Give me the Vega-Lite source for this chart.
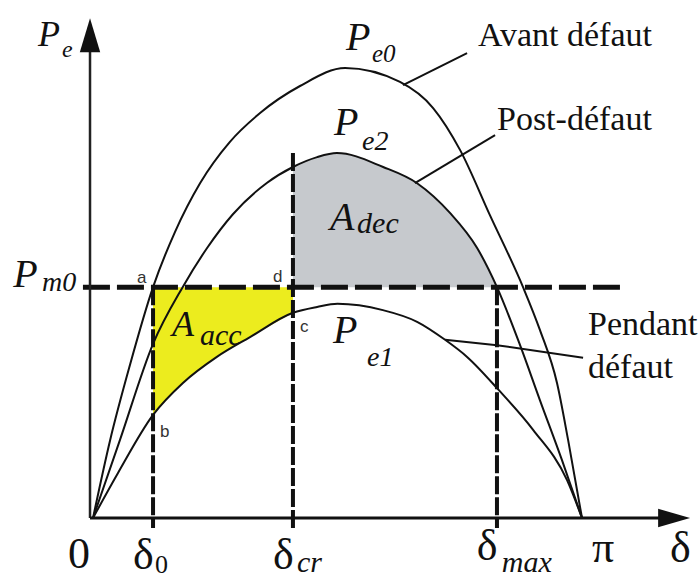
{
  "$schema": "https://vega.github.io/schema/vega-lite/v6.json",
  "width": 489,
  "height": 450,
  "autosize": {"type": "none"},
  "padding": {"left": 93, "top": 68, "right": 117, "bottom": 62},
  "background": "white",
  "config": {"view": {"stroke": null}, "axis": {"disable": true}},
  "datasets": {
    "curves": [
      {"curve": "Pe0", "x": 0, "y": 0},
      {"curve": "Pe0", "x": 6.3, "y": 0.173},
      {"curve": "Pe0", "x": 13.6, "y": 0.34},
      {"curve": "Pe0", "x": 22.1, "y": 0.513},
      {"curve": "Pe0", "x": 30.2, "y": 0.636},
      {"curve": "Pe0", "x": 39.4, "y": 0.744},
      {"curve": "Pe0", "x": 50.4, "y": 0.836},
      {"curve": "Pe0", "x": 61.5, "y": 0.9},
      {"curve": "Pe0", "x": 76.2, "y": 0.96},
      {"curve": "Pe0", "x": 92.8, "y": 1.0},
      {"curve": "Pe0", "x": 113, "y": 0.969},
      {"curve": "Pe0", "x": 125.2, "y": 0.911},
      {"curve": "Pe0", "x": 135.1, "y": 0.818},
      {"curve": "Pe0", "x": 146.1, "y": 0.673},
      {"curve": "Pe0", "x": 158.3, "y": 0.513},
      {"curve": "Pe0", "x": 164.5, "y": 0.418},
      {"curve": "Pe0", "x": 170.8, "y": 0.3},
      {"curve": "Pe0", "x": 174.9, "y": 0.173},
      {"curve": "Pe0", "x": 180, "y": 0},
      {"curve": "Pe2", "x": 0, "y": 0},
      {"curve": "Pe2", "x": 9.9, "y": 0.173},
      {"curve": "Pe2", "x": 22.1, "y": 0.387},
      {"curve": "Pe2", "x": 33, "y": 0.513},
      {"curve": "Pe2", "x": 42, "y": 0.6},
      {"curve": "Pe2", "x": 51.5, "y": 0.675},
      {"curve": "Pe2", "x": 64.1, "y": 0.745},
      {"curve": "Pe2", "x": 73.6, "y": 0.78},
      {"curve": "Pe2", "x": 82.5, "y": 0.802},
      {"curve": "Pe2", "x": 89.8, "y": 0.811},
      {"curve": "Pe2", "x": 106.8, "y": 0.78},
      {"curve": "Pe2", "x": 119.3, "y": 0.744},
      {"curve": "Pe2", "x": 131.4, "y": 0.678},
      {"curve": "Pe2", "x": 141.4, "y": 0.6},
      {"curve": "Pe2", "x": 148.7, "y": 0.513},
      {"curve": "Pe2", "x": 157.2, "y": 0.384},
      {"curve": "Pe2", "x": 164.5, "y": 0.262},
      {"curve": "Pe2", "x": 172.6, "y": 0.129},
      {"curve": "Pe2", "x": 180, "y": 0},
      {"curve": "Pe1", "x": 0, "y": 0},
      {"curve": "Pe1", "x": 9.2, "y": 0.1},
      {"curve": "Pe1", "x": 22.1, "y": 0.229},
      {"curve": "Pe1", "x": 33.1, "y": 0.3},
      {"curve": "Pe1", "x": 45.6, "y": 0.358},
      {"curve": "Pe1", "x": 57.8, "y": 0.402},
      {"curve": "Pe1", "x": 73.6, "y": 0.456},
      {"curve": "Pe1", "x": 82.5, "y": 0.469},
      {"curve": "Pe1", "x": 90, "y": 0.476},
      {"curve": "Pe1", "x": 106.7, "y": 0.462},
      {"curve": "Pe1", "x": 119.3, "y": 0.436},
      {"curve": "Pe1", "x": 129.6, "y": 0.396},
      {"curve": "Pe1", "x": 137.7, "y": 0.358},
      {"curve": "Pe1", "x": 149.4, "y": 0.284},
      {"curve": "Pe1", "x": 162, "y": 0.196},
      {"curve": "Pe1", "x": 174.5, "y": 0.084},
      {"curve": "Pe1", "x": 180, "y": 0}
    ],
    "angles": [
      {"angle": "δ0", "x": 22.1, "y": 0.513},
      {"angle": "δcr", "x": 73.6, "y": 0.811},
      {"angle": "δmax", "x": 148.7, "y": 0.513}
    ],
    "leaders": [
      {"label": "Avant défaut", "x": 114.1, "y": 0.962},
      {"label": "Avant défaut", "x": 137.7, "y": 1.033},
      {"label": "Post-défaut", "x": 118.5, "y": 0.744},
      {"label": "Post-défaut", "x": 148.0, "y": 0.851},
      {"label": "Pendant défaut", "x": 129.6, "y": 0.396},
      {"label": "Pendant défaut", "x": 148.7, "y": 0.384},
      {"label": "Pendant défaut", "x": 180.4, "y": 0.356}
    ]
  },
  "layer": [
    {
      "data": {"name": "curves"},
      "transform": [{"filter": "datum.curve === 'Pe1' && datum.x >= 22 && datum.x <= 74"}],
      "mark": {"type": "area", "interpolate": "monotone", "color": "#ecec1e"},
      "encoding": {
        "x": {"field": "x", "type": "quantitative", "scale": {"domain": [0, 180], "nice": false, "zero": false}},
        "y": {"field": "y", "type": "quantitative", "scale": {"domain": [0, 1], "nice": false, "zero": false}},
        "y2": {"datum": 0.513}
      }
    },
    {
      "data": {"name": "curves"},
      "transform": [{"filter": "datum.curve === 'Pe2' && datum.x >= 73 && datum.x <= 149"}],
      "mark": {"type": "area", "interpolate": "monotone", "color": "#c6c9cd"},
      "encoding": {
        "x": {"field": "x", "type": "quantitative"},
        "y": {"field": "y", "type": "quantitative"},
        "y2": {"datum": 0.513}
      }
    },
    {
      "data": {"name": "curves"},
      "mark": {"type": "line", "interpolate": "monotone", "color": "#111", "strokeWidth": 2},
      "encoding": {
        "x": {"field": "x", "type": "quantitative"},
        "y": {"field": "y", "type": "quantitative"},
        "detail": {"field": "curve"}
      }
    },
    {
      "data": {"name": "angles"},
      "mark": {"type": "rule", "color": "#111", "strokeWidth": 4, "strokeDash": [18, 3]},
      "encoding": {
        "x": {"field": "x", "type": "quantitative"},
        "y": {"field": "y", "type": "quantitative"},
        "y2": {"datum": -0.022}
      }
    },
    {
      "data": {"values": [{}]},
      "mark": {"type": "rule", "color": "#111", "strokeWidth": 5, "strokeDash": [27, 7]},
      "encoding": {
        "x": {"datum": -3.7, "type": "quantitative"},
        "x2": {"datum": 194},
        "y": {"datum": 0.513, "type": "quantitative"}
      }
    },
    {
      "data": {"values": [{}]},
      "mark": {"type": "rule", "color": "#222", "strokeWidth": 2.5},
      "encoding": {
        "x": {"datum": -1.1, "type": "quantitative"},
        "y": {"datum": 0, "type": "quantitative"},
        "y2": {"datum": 1.04}
      }
    },
    {
      "data": {"values": [{}]},
      "mark": {"type": "rule", "color": "#111", "strokeWidth": 3},
      "encoding": {
        "x": {"datum": -1.1, "type": "quantitative"},
        "x2": {"datum": 210},
        "y": {"datum": 0, "type": "quantitative"}
      }
    },
    {
      "data": {"values": [{}]},
      "mark": {"type": "point", "shape": "M0,-1L0.6,1L-0.6,1Z", "size": 1156, "filled": true, "opacity": 1, "color": "#111"},
      "encoding": {
        "x": {"datum": -1.1, "type": "quantitative"},
        "y": {"datum": 1.073, "type": "quantitative"}
      }
    },
    {
      "data": {"values": [{}]},
      "mark": {"type": "point", "shape": "M1,0L-1,0.58L-1,-0.58Z", "size": 1024, "filled": true, "opacity": 1, "color": "#111"},
      "encoding": {
        "x": {"datum": 213.9, "type": "quantitative"},
        "y": {"datum": 0, "type": "quantitative"}
      }
    },
    {
      "data": {"name": "leaders"},
      "mark": {"type": "line", "color": "#111", "strokeWidth": 2},
      "encoding": {
        "x": {"field": "x", "type": "quantitative"},
        "y": {"field": "y", "type": "quantitative"},
        "detail": {"field": "label"}
      }
    },
    {
      "data": {"values": [
        {"t": "P", "x": -29.4, "y": 0.513},
        {"t": "P", "x": 93.1, "y": 1.04},
        {"t": "P", "x": 88.7, "y": 0.851},
        {"t": "P", "x": 88.3, "y": 0.389},
        {"t": "A", "x": 87.2, "y": 0.64}
      ]},
      "mark": {"type": "text", "font": "Liberation Serif", "fontStyle": "italic", "fontSize": 40, "align": "left", "baseline": "alphabetic", "color": "#111"},
      "encoding": {
        "x": {"field": "x", "type": "quantitative"},
        "y": {"field": "y", "type": "quantitative"},
        "text": {"field": "t"}
      }
    },
    {
      "data": {"values": [
        {"t": "P", "x": -20.2, "y": 1.049},
        {"t": "A", "x": 29.1, "y": 0.404}
      ]},
      "mark": {"type": "text", "font": "Liberation Serif", "fontStyle": "italic", "fontSize": 36, "align": "left", "baseline": "alphabetic", "color": "#111"},
      "encoding": {
        "x": {"field": "x", "type": "quantitative"},
        "y": {"field": "y", "type": "quantitative"},
        "text": {"field": "t"}
      }
    },
    {
      "data": {"values": [
        {"t": "m0", "x": -18.8, "y": 0.504},
        {"t": "e2", "x": 99.0, "y": 0.818},
        {"t": "e1", "x": 100.9, "y": 0.338}
      ]},
      "mark": {"type": "text", "font": "Liberation Serif", "fontStyle": "italic", "fontSize": 28, "align": "left", "baseline": "alphabetic", "color": "#111"},
      "encoding": {
        "x": {"field": "x", "type": "quantitative"},
        "y": {"field": "y", "type": "quantitative"},
        "text": {"field": "t"}
      }
    },
    {
      "data": {"values": [
        {"t": "e0", "x": 102.7, "y": 1.013}
      ]},
      "mark": {"type": "text", "font": "Liberation Serif", "fontStyle": "italic", "fontSize": 25, "align": "left", "baseline": "alphabetic", "color": "#111"},
      "encoding": {
        "x": {"field": "x", "type": "quantitative"},
        "y": {"field": "y", "type": "quantitative"},
        "text": {"field": "t"}
      }
    },
    {
      "data": {"values": [
        {"t": "dec", "x": 97.2, "y": 0.633},
        {"t": "acc", "x": 39.4, "y": 0.384},
        {"t": "cr", "x": 75.1, "y": -0.12},
        {"t": "max", "x": 150.5, "y": -0.12}
      ]},
      "mark": {"type": "text", "font": "Liberation Serif", "fontStyle": "italic", "fontSize": 30, "align": "left", "baseline": "alphabetic", "color": "#111"},
      "encoding": {
        "x": {"field": "x", "type": "quantitative"},
        "y": {"field": "y", "type": "quantitative"},
        "text": {"field": "t"}
      }
    },
    {
      "data": {"values": [{"t": "e", "x": -11.4, "y": 1.024}]},
      "mark": {"type": "text", "font": "Liberation Serif", "fontStyle": "italic", "fontSize": 24, "align": "left", "baseline": "alphabetic", "color": "#111"},
      "encoding": {
        "x": {"field": "x", "type": "quantitative"},
        "y": {"field": "y", "type": "quantitative"},
        "text": {"field": "t"}
      }
    },
    {
      "data": {"values": [
        {"t": "Avant défaut", "x": 141.7, "y": 1.049},
        {"t": "Post-défaut", "x": 148.7, "y": 0.862},
        {"t": "Pendant", "x": 182.2, "y": 0.407},
        {"t": "défaut", "x": 182.2, "y": 0.311}
      ]},
      "mark": {"type": "text", "font": "Liberation Serif", "fontSize": 34, "align": "left", "baseline": "alphabetic", "color": "#111"},
      "encoding": {
        "x": {"field": "x", "type": "quantitative"},
        "y": {"field": "y", "type": "quantitative"},
        "text": {"field": "t"}
      }
    },
    {
      "data": {"values": [
        {"t": "0", "x": -9.2, "y": -0.111},
        {"t": "δ", "x": 14.7, "y": -0.113},
        {"t": "δ", "x": 66.3, "y": -0.113},
        {"t": "δ", "x": 141.3, "y": -0.093},
        {"t": "π", "x": 183.7, "y": -0.098},
        {"t": "δ", "x": 212.4, "y": -0.098}
      ]},
      "mark": {"type": "text", "font": "Liberation Serif", "fontSize": 44, "align": "left", "baseline": "alphabetic", "color": "#111"},
      "encoding": {
        "x": {"field": "x", "type": "quantitative"},
        "y": {"field": "y", "type": "quantitative"},
        "text": {"field": "t"}
      }
    },
    {
      "data": {"values": [{"t": "0", "x": 22.8, "y": -0.122}]},
      "mark": {"type": "text", "font": "Liberation Serif", "fontSize": 26, "align": "left", "baseline": "alphabetic", "color": "#111"},
      "encoding": {
        "x": {"field": "x", "type": "quantitative"},
        "y": {"field": "y", "type": "quantitative"},
        "text": {"field": "t"}
      }
    },
    {
      "data": {"values": [
        {"t": "a", "x": 16.2, "y": 0.522},
        {"t": "d", "x": 66.3, "y": 0.524},
        {"t": "b", "x": 24.7, "y": 0.18},
        {"t": "c", "x": 76.2, "y": 0.413}
      ]},
      "mark": {"type": "text", "font": "Liberation Sans", "fontSize": 17, "align": "left", "baseline": "alphabetic", "color": "#333"},
      "encoding": {
        "x": {"field": "x", "type": "quantitative"},
        "y": {"field": "y", "type": "quantitative"},
        "text": {"field": "t"}
      }
    }
  ]
}
